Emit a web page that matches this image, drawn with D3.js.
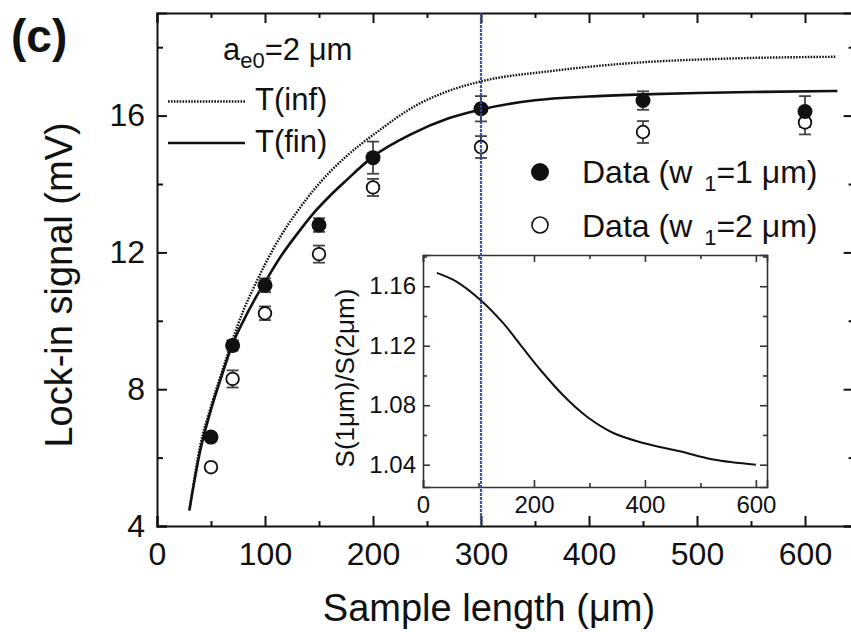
<!DOCTYPE html>
<html><head><meta charset="utf-8">
<script src="https://cdn.jsdelivr.net/npm/d3@7"></script>
<style>
body{margin:0;background:#fff;}
svg{display:block;}
text{font-family:"Liberation Sans",Arial,Helvetica,sans-serif;fill:#111;}
</style></head>
<body>
<svg id="chart" width="851" height="632"></svg>
<script>
// ---- data ----
const sampleLengths = [50, 70, 100, 150, 200, 300, 450, 600];
const dataW1 = [6.6, 9.28, 11.04, 12.8, 14.77, 16.2, 16.44, 16.12];
const errW1  = [0.1, 0.15, 0.2, 0.2, 0.47, 0.37, 0.27, 0.45];
const dataW2 = [5.72, 8.3, 10.22, 11.95, 13.9, 15.08, 15.52, 15.8];
const errW2  = [0.1, 0.25, 0.2, 0.25, 0.25, 0.32, 0.32, 0.35];

const tFinX = [30, 40, 50, 60, 70, 80, 90, 100, 115, 130, 145, 160, 175, 200, 235, 270, 300, 350, 400, 450, 500, 550, 630];
const tFinY = [4.47, 6.2, 7.4, 8.4, 9.32, 10.0, 10.6, 11.13, 11.9, 12.55, 13.15, 13.65, 14.1, 14.8, 15.45, 15.92, 16.18, 16.45, 16.56, 16.62, 16.66, 16.69, 16.72];
const tInfX = [30, 40, 50, 60, 70, 80, 90, 100, 115, 130, 145, 160, 175, 205, 240, 270, 300, 367, 450, 521, 628];
const tInfY = [4.45, 6.35, 7.5, 8.5, 9.45, 10.3, 11.0, 11.65, 12.5, 13.2, 13.82, 14.35, 14.8, 15.55, 16.3, 16.72, 17.0, 17.31, 17.56, 17.66, 17.72];

const insetX = [25, 61, 104, 145, 181, 211, 253, 295, 343, 397, 463, 523, 600];
const insetY = [1.169, 1.163, 1.1506, 1.135, 1.118, 1.104, 1.0865, 1.0724, 1.0613, 1.0546, 1.049, 1.0435, 1.04];

const xMajorTicks = [0, 100, 200, 300, 400, 500, 600];
const xMinorTicks = [50, 150, 250, 350, 450, 550];
const yMajorTicks = [4, 8, 12, 16];
const yMinorTicks = [6, 10, 14, 18];
const insetXMajor = [0, 200, 400, 600];
const insetXMinor = [100, 300, 500];
const insetYMajor = [1.04, 1.08, 1.12, 1.16];
const insetYMinor = [1.06, 1.10, 1.14, 1.18];
const markerLine = 300;

// ---- scales ----
const svg = d3.select("#chart");
const x = d3.scaleLinear().domain([0, 645]).range([157, 853.6]);
const y = d3.scaleLinear().domain([4, 19]).range([526, 13]);
const ix = d3.scaleLinear().domain([0, 620]).range([423, 767]);
const iy = d3.scaleLinear().domain([1.025, 1.181]).range([487, 255]);

const FONT_TICK = 32, FONT_TITLE = 38, FONT_LEG = 31, FONT_ITICK = 24;

function styleAxis(g, w, fs) {
  g.select(".domain").attr("stroke", "#111").attr("stroke-width", w);
  g.selectAll(".tick line").attr("stroke", "#111").attr("stroke-width", w);
  g.selectAll("text").attr("font-size", fs).attr("fill", "#111")
    .attr("font-family", '"Liberation Sans",Arial,sans-serif');
}

// main axes
const gB = svg.append("g").attr("transform", `translate(0,${y(4)})`)
  .call(d3.axisBottom(x).tickValues(xMajorTicks).tickSize(-10).tickPadding(16).tickFormat(d3.format("d")));
styleAxis(gB, 2, FONT_TICK);
const gBm = svg.append("g").attr("transform", `translate(0,${y(4)})`)
  .call(d3.axisBottom(x).tickValues(xMinorTicks).tickSize(-5).tickFormat(""));
styleAxis(gBm, 2, FONT_TICK);
gBm.select(".domain").remove();

const gT = svg.append("g").attr("transform", `translate(0,${y(19)})`)
  .call(d3.axisTop(x).tickValues(xMajorTicks).tickSize(-10).tickFormat(""));
styleAxis(gT, 2, FONT_TICK);
const gTm = svg.append("g").attr("transform", `translate(0,${y(19)})`)
  .call(d3.axisTop(x).tickValues(xMinorTicks).tickSize(-5).tickFormat(""));
styleAxis(gTm, 2, FONT_TICK); gTm.select(".domain").remove();

const gL = svg.append("g").attr("transform", `translate(${x(0)},0)`)
  .call(d3.axisLeft(y).tickValues(yMajorTicks).tickSize(-10).tickPadding(12).tickFormat(d3.format("d")));
styleAxis(gL, 2, FONT_TICK);
const gLm = svg.append("g").attr("transform", `translate(${x(0)},0)`)
  .call(d3.axisLeft(y).tickValues(yMinorTicks).tickSize(-6).tickFormat(""));
styleAxis(gLm, 2, FONT_TICK); gLm.select(".domain").remove();

const gR = svg.append("g").attr("transform", `translate(${x(645)},0)`)
  .call(d3.axisRight(y).tickValues(yMajorTicks).tickSize(-10).tickFormat(""));
styleAxis(gR, 2, FONT_TICK);
const gRm = svg.append("g").attr("transform", `translate(${x(645)},0)`)
  .call(d3.axisRight(y).tickValues(yMinorTicks).tickSize(-5).tickFormat(""));
styleAxis(gRm, 2, FONT_TICK); gRm.select(".domain").remove();

// axis titles
svg.append("text").attr("x", 489).attr("y", 621).attr("text-anchor", "middle")
  .attr("font-size", FONT_TITLE).text("Sample length (μm)");
svg.append("text").attr("transform", "translate(72,285) rotate(-90)").attr("text-anchor", "middle")
  .attr("font-size", FONT_TITLE).text("Lock-in signal (mV)");

// panel label
svg.append("text").attr("x", 11).attr("y", 52).attr("font-size", 46).attr("font-weight", "bold").text("(c)");

// curves
const line = d3.line().x(d => x(d[0])).y(d => y(d[1])).curve(d3.curveMonotoneX);
svg.append("path").datum(d3.zip(tInfX, tInfY)).attr("d", line)
  .attr("fill", "none").attr("stroke", "#111").attr("stroke-width", 2.4).attr("stroke-dasharray", "1.6,1.3");
svg.append("path").datum(d3.zip(tFinX, tFinY)).attr("d", line)
  .attr("fill", "none").attr("stroke", "#111").attr("stroke-width", 2.6);

// error bars + points
function errorBars(vals, errs) {
  const g = svg.append("g").attr("stroke", "#444").attr("stroke-width", 1.8);
  sampleLengths.forEach((s, i) => {
    const cx = x(s), y0 = y(vals[i] - errs[i]), y1 = y(vals[i] + errs[i]);
    g.append("line").attr("x1", cx).attr("x2", cx).attr("y1", y0).attr("y2", y1);
    g.append("line").attr("x1", cx - 6).attr("x2", cx + 6).attr("y1", y0).attr("y2", y0);
    g.append("line").attr("x1", cx - 6).attr("x2", cx + 6).attr("y1", y1).attr("y2", y1);
  });
}
errorBars(dataW2, errW2);
errorBars(dataW1, errW1);
svg.append("g").selectAll("circle").data(d3.zip(sampleLengths, dataW2)).join("circle")
  .attr("cx", d => x(d[0])).attr("cy", d => y(d[1])).attr("r", 6.3)
  .attr("fill", "#fff").attr("stroke", "#111").attr("stroke-width", 1.8);
svg.append("g").selectAll("circle").data(d3.zip(sampleLengths, dataW1)).join("circle")
  .attr("cx", d => x(d[0])).attr("cy", d => y(d[1])).attr("r", 7.5).attr("fill", "#111");

// legend
const leg = svg.append("g");
const ae = leg.append("text").attr("x", 223).attr("y", 60).attr("font-size", FONT_LEG);
ae.append("tspan").text("a");
ae.append("tspan").attr("font-size", 22).attr("dy", 8).text("e0");
ae.append("tspan").attr("dy", -8).text("=2 μm");
leg.append("line").attr("x1", 168).attr("x2", 245).attr("y1", 101.5).attr("y2", 101.5)
  .attr("stroke", "#111").attr("stroke-width", 2.4).attr("stroke-dasharray", "1.6,1.3");
leg.append("text").attr("x", 255).attr("y", 110).attr("font-size", FONT_LEG).text("T(inf)");
leg.append("line").attr("x1", 168).attr("x2", 245).attr("y1", 143).attr("y2", 143)
  .attr("stroke", "#111").attr("stroke-width", 2.6);
leg.append("text").attr("x", 255).attr("y", 152).attr("font-size", FONT_LEG).text("T(fin)");

function dataLabel(yb, val) {
  const t = leg.append("text").attr("x", 582).attr("y", yb).attr("font-size", 32);
  t.append("tspan").text("Data (w ");
  t.append("tspan").attr("font-size", 22).attr("dx", 3).attr("dy", 8).text("1");
  t.append("tspan").attr("dy", -8).text("=" + val + " μm)");
}
leg.append("circle").attr("cx", 540).attr("cy", 172).attr("r", 9).attr("fill", "#111");
dataLabel(183, 1);
leg.append("circle").attr("cx", 540).attr("cy", 225).attr("r", 8).attr("fill", "#fff").attr("stroke", "#111").attr("stroke-width", 1.6);
dataLabel(237, 2);

// inset
const inset = svg.append("g");
inset.append("rect").attr("x", ix(0)).attr("y", iy(1.181)).attr("width", ix(620) - ix(0)).attr("height", iy(1.025) - iy(1.181))
  .attr("fill", "#fff").attr("stroke", "none");
function iaxis(gen, tr) {
  const g = inset.append("g").attr("transform", tr).call(gen);
  g.select(".domain").attr("stroke", "#333").attr("stroke-width", 1.6);
  g.selectAll(".tick line").attr("stroke", "#333").attr("stroke-width", 1.6);
  g.selectAll("text").attr("font-size", FONT_ITICK).attr("fill", "#111")
    .attr("font-family", '"Liberation Sans",Arial,sans-serif');
  return g;
}
iaxis(d3.axisBottom(ix).tickValues(insetXMajor).tickSize(-7).tickPadding(9).tickFormat(d3.format("d")), `translate(0,${iy(1.025)})`);
iaxis(d3.axisBottom(ix).tickValues(insetXMinor).tickSize(-4).tickFormat(""), `translate(0,${iy(1.025)})`).select(".domain").remove();
iaxis(d3.axisTop(ix).tickValues(insetXMajor).tickSize(-7).tickFormat(""), `translate(0,${iy(1.181)})`);
iaxis(d3.axisTop(ix).tickValues(insetXMinor).tickSize(-4).tickFormat(""), `translate(0,${iy(1.181)})`).select(".domain").remove();
iaxis(d3.axisLeft(iy).tickValues(insetYMajor).tickSize(-7).tickPadding(7).tickFormat(d3.format(".2f")), `translate(${ix(0)},0)`);
iaxis(d3.axisLeft(iy).tickValues(insetYMinor).tickSize(-4).tickFormat(""), `translate(${ix(0)},0)`).select(".domain").remove();
iaxis(d3.axisRight(iy).tickValues(insetYMajor).tickSize(-7).tickFormat(""), `translate(${ix(620)},0)`);
iaxis(d3.axisRight(iy).tickValues(insetYMinor).tickSize(-4).tickFormat(""), `translate(${ix(620)},0)`).select(".domain").remove();

const iline = d3.line().x(d => ix(d[0])).y(d => iy(d[1])).curve(d3.curveCatmullRom.alpha(0.5));
inset.append("path").datum(d3.zip(insetX, insetY)).attr("d", iline)
  .attr("fill", "none").attr("stroke", "#111").attr("stroke-width", 2);
inset.append("text").attr("transform", "translate(354,378) rotate(-90)").attr("text-anchor", "middle")
  .attr("font-size", 26).text("S(1μm)/S(2μm)");

// vertical marker line
svg.append("line").attr("x1", x(markerLine)).attr("x2", x(markerLine)).attr("y1", y(19)).attr("y2", y(4))
  .attr("stroke", "#2f3fb0").attr("stroke-width", 2.2).attr("stroke-dasharray", "3,1").attr("opacity", 0.9);
</script>
</body></html>
